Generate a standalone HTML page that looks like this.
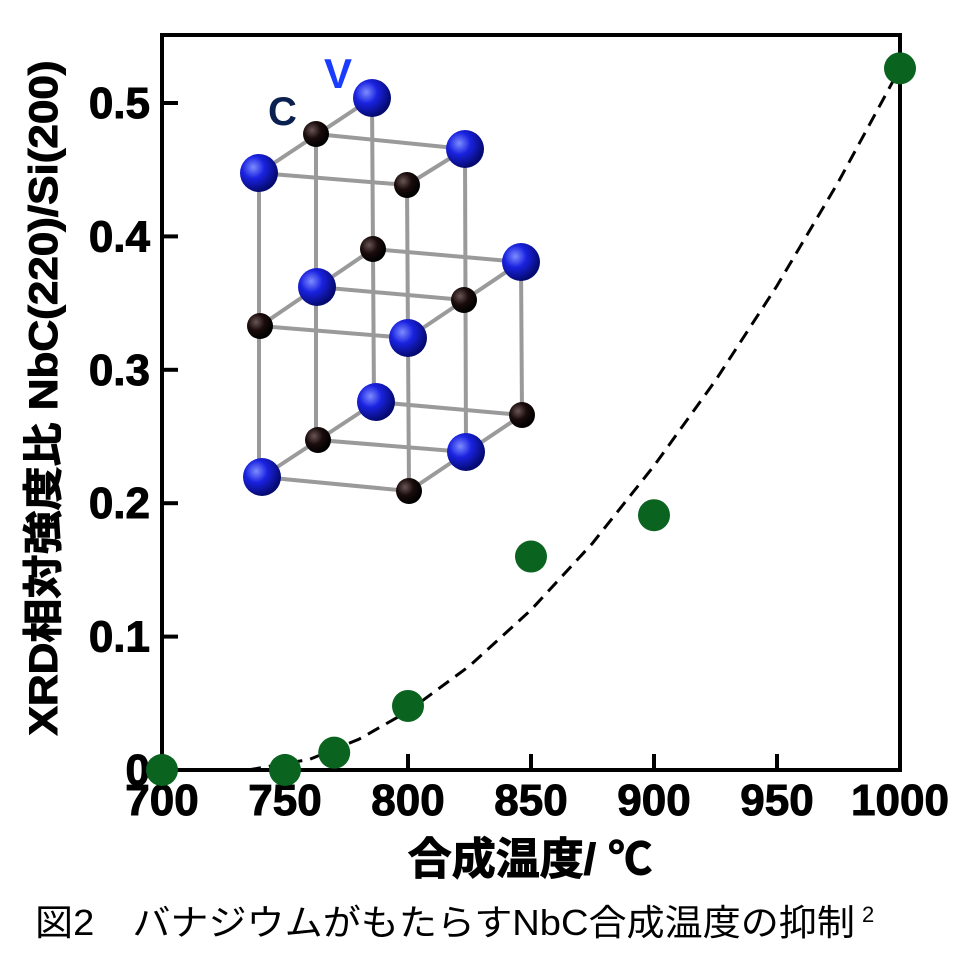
<!DOCTYPE html>
<html><head><meta charset="utf-8"><style>
html,body{margin:0;padding:0;background:#fff;}
svg{display:block;}
text{font-family:"Liberation Sans","Noto Sans CJK JP",sans-serif;}
</style></head><body>
<svg width="960" height="975" viewBox="0 0 960 975">
<defs>
<radialGradient id="gb" cx="35%" cy="35%" r="65%"><stop offset="0" stop-color="#7d8cff"/><stop offset="0.45" stop-color="#1a22e0"/><stop offset="1" stop-color="#050a70"/></radialGradient>
<radialGradient id="gk" cx="35%" cy="35%" r="65%"><stop offset="0" stop-color="#6a5555"/><stop offset="0.5" stop-color="#1a0c0c"/><stop offset="1" stop-color="#000"/></radialGradient>
</defs>
<g id="crystal" stroke="#9a9a9a" stroke-width="4">
<line x1="259" y1="173" x2="259" y2="477"/><line x1="316" y1="134" x2="316" y2="440"/><line x1="372" y1="98" x2="374" y2="402"/><line x1="407" y1="185" x2="409" y2="491"/><line x1="465" y1="149" x2="466" y2="452"/><line x1="521" y1="262" x2="522" y2="415"/>
<line x1="259" y1="173" x2="372" y2="98"/><line x1="407" y1="185" x2="465" y2="149"/><line x1="259" y1="173" x2="407" y2="185"/><line x1="316" y1="134" x2="465" y2="149"/>
<line x1="260" y1="326" x2="373" y2="249"/><line x1="408" y1="338" x2="521" y2="262"/><line x1="260" y1="326" x2="408" y2="338"/><line x1="317" y1="287" x2="464" y2="300"/><line x1="373" y1="249" x2="521" y2="262"/>
<line x1="262" y1="477" x2="376" y2="402"/><line x1="409" y1="491" x2="522" y2="415"/><line x1="262" y1="477" x2="409" y2="491"/><line x1="318" y1="440" x2="466" y2="452"/><line x1="376" y1="402" x2="522" y2="415"/>
<g stroke="none">
<circle cx="316" cy="134" r="13" fill="url(#gk)"/><circle cx="407" cy="185" r="13" fill="url(#gk)"/><circle cx="373" cy="249" r="13" fill="url(#gk)"/><circle cx="464" cy="300" r="13" fill="url(#gk)"/><circle cx="260" cy="326" r="13" fill="url(#gk)"/><circle cx="522" cy="415" r="13" fill="url(#gk)"/><circle cx="318" cy="440" r="13" fill="url(#gk)"/><circle cx="409" cy="491" r="13" fill="url(#gk)"/>
<circle cx="372" cy="98" r="19" fill="url(#gb)"/><circle cx="465" cy="149" r="19" fill="url(#gb)"/><circle cx="259" cy="173" r="19" fill="url(#gb)"/><circle cx="521" cy="262" r="19" fill="url(#gb)"/><circle cx="317" cy="287" r="19" fill="url(#gb)"/><circle cx="408" cy="338" r="19" fill="url(#gb)"/><circle cx="376" cy="402" r="19" fill="url(#gb)"/><circle cx="466" cy="452" r="19" fill="url(#gb)"/><circle cx="262" cy="477" r="19" fill="url(#gb)"/>
</g>
<text x="268" y="125" font-size="40" font-weight="bold" fill="#0a2050" stroke="none">C</text>
<text x="324" y="88" font-size="42" font-weight="bold" fill="#1a3cff" stroke="none">V</text>
</g>
<g id="axes"></g>
<g id="fit"></g>
<g id="pts"></g>
<text x="530" y="874" font-size="44" font-weight="bold" text-anchor="middle" fill="#000" stroke="#000" stroke-width="1">合成温度/ ℃</text>
<text transform="translate(57,398) rotate(-90)" font-size="40" font-weight="bold" text-anchor="middle" fill="#000" stroke="#000" stroke-width="1" textLength="675" lengthAdjust="spacingAndGlyphs">XRD相対強度比 NbC(220)/Si(200)</text>
<text x="35" y="935" font-size="36" fill="#000" textLength="820" lengthAdjust="spacingAndGlyphs">図2　バナジウムがもたらすNbC合成温度の抑制 </text>
<text x="862" y="922" font-size="22" fill="#000">2</text>
</svg>
<script>
const temps=[700,750,770,800,850,900,1000];
const ratios=[0.0,0.0,0.013,0.048,0.16,0.191,0.526];
const fitTemps=[735,760,780,800,825,850,875,900,925,950,975,1000];
const fitVals=[0,0.008,0.023,0.044,0.078,0.12,0.170,0.228,0.292,0.363,0.441,0.526];
const xTicks=[700,750,800,850,900,950,1000];
const yTicks=[0,0.1,0.2,0.3,0.4,0.5];
const yTickLabels=["0","0.1","0.2","0.3","0.4","0.5"];
const NS="http://www.w3.org/2000/svg";
const X0=162,X1=900,Y0=770,YT=35;
const sx=t=>X0+(t-700)/300*(X1-X0);
const sy=v=>Y0-v/0.5*(Y0-103);
function mk(tag,at,parent){const e=document.createElementNS(NS,tag);for(const k in at)e.setAttribute(k,at[k]);parent.appendChild(e);return e;}
const ax=document.getElementById('axes');
const frame=mk('rect',{x:X0,y:YT,width:X1-X0,height:Y0-YT,fill:'none',stroke:'#000','stroke-width':4},ax);


xTicks.forEach(t=>{
 const l=mk('line',{x1:sx(t),x2:sx(t),y1:Y0,y2:Y0-16,stroke:'#000','stroke-width':4},ax);
 
 
 const tx=mk('text',{x:sx(t),y:Y0+45,'font-size':44,'font-weight':'bold','text-anchor':'middle',fill:'#000',stroke:'#000','stroke-width':1},ax);
 tx.textContent=t;
 
 
});
yTicks.forEach((v,i)=>{
 const l=mk('line',{x1:X0,x2:X0+16,y1:sy(v),y2:sy(v),stroke:'#000','stroke-width':4},ax);
 
 
 const tx=mk('text',{x:i===0?150:150,y:sy(v)+15,'font-size':44,'font-weight':'bold','text-anchor':'end',fill:'#000',stroke:'#000','stroke-width':1},ax);
 tx.textContent=yTickLabels[i];
 
 
});
const fg=document.getElementById('fit');
const path=mk('polyline',{points:fitTemps.map((t,i)=>sx(t)+','+sy(fitVals[i])).join(' '),fill:'none',stroke:'#000','stroke-width':3,'stroke-dasharray':'13,8'},fg);


const pg=document.getElementById('pts');
temps.forEach((t,i)=>{
 const c=mk('circle',{cx:sx(t),cy:sy(ratios[i]),r:16,fill:'#0b6320'},pg);
 
 
});
</script>
</body></html>
